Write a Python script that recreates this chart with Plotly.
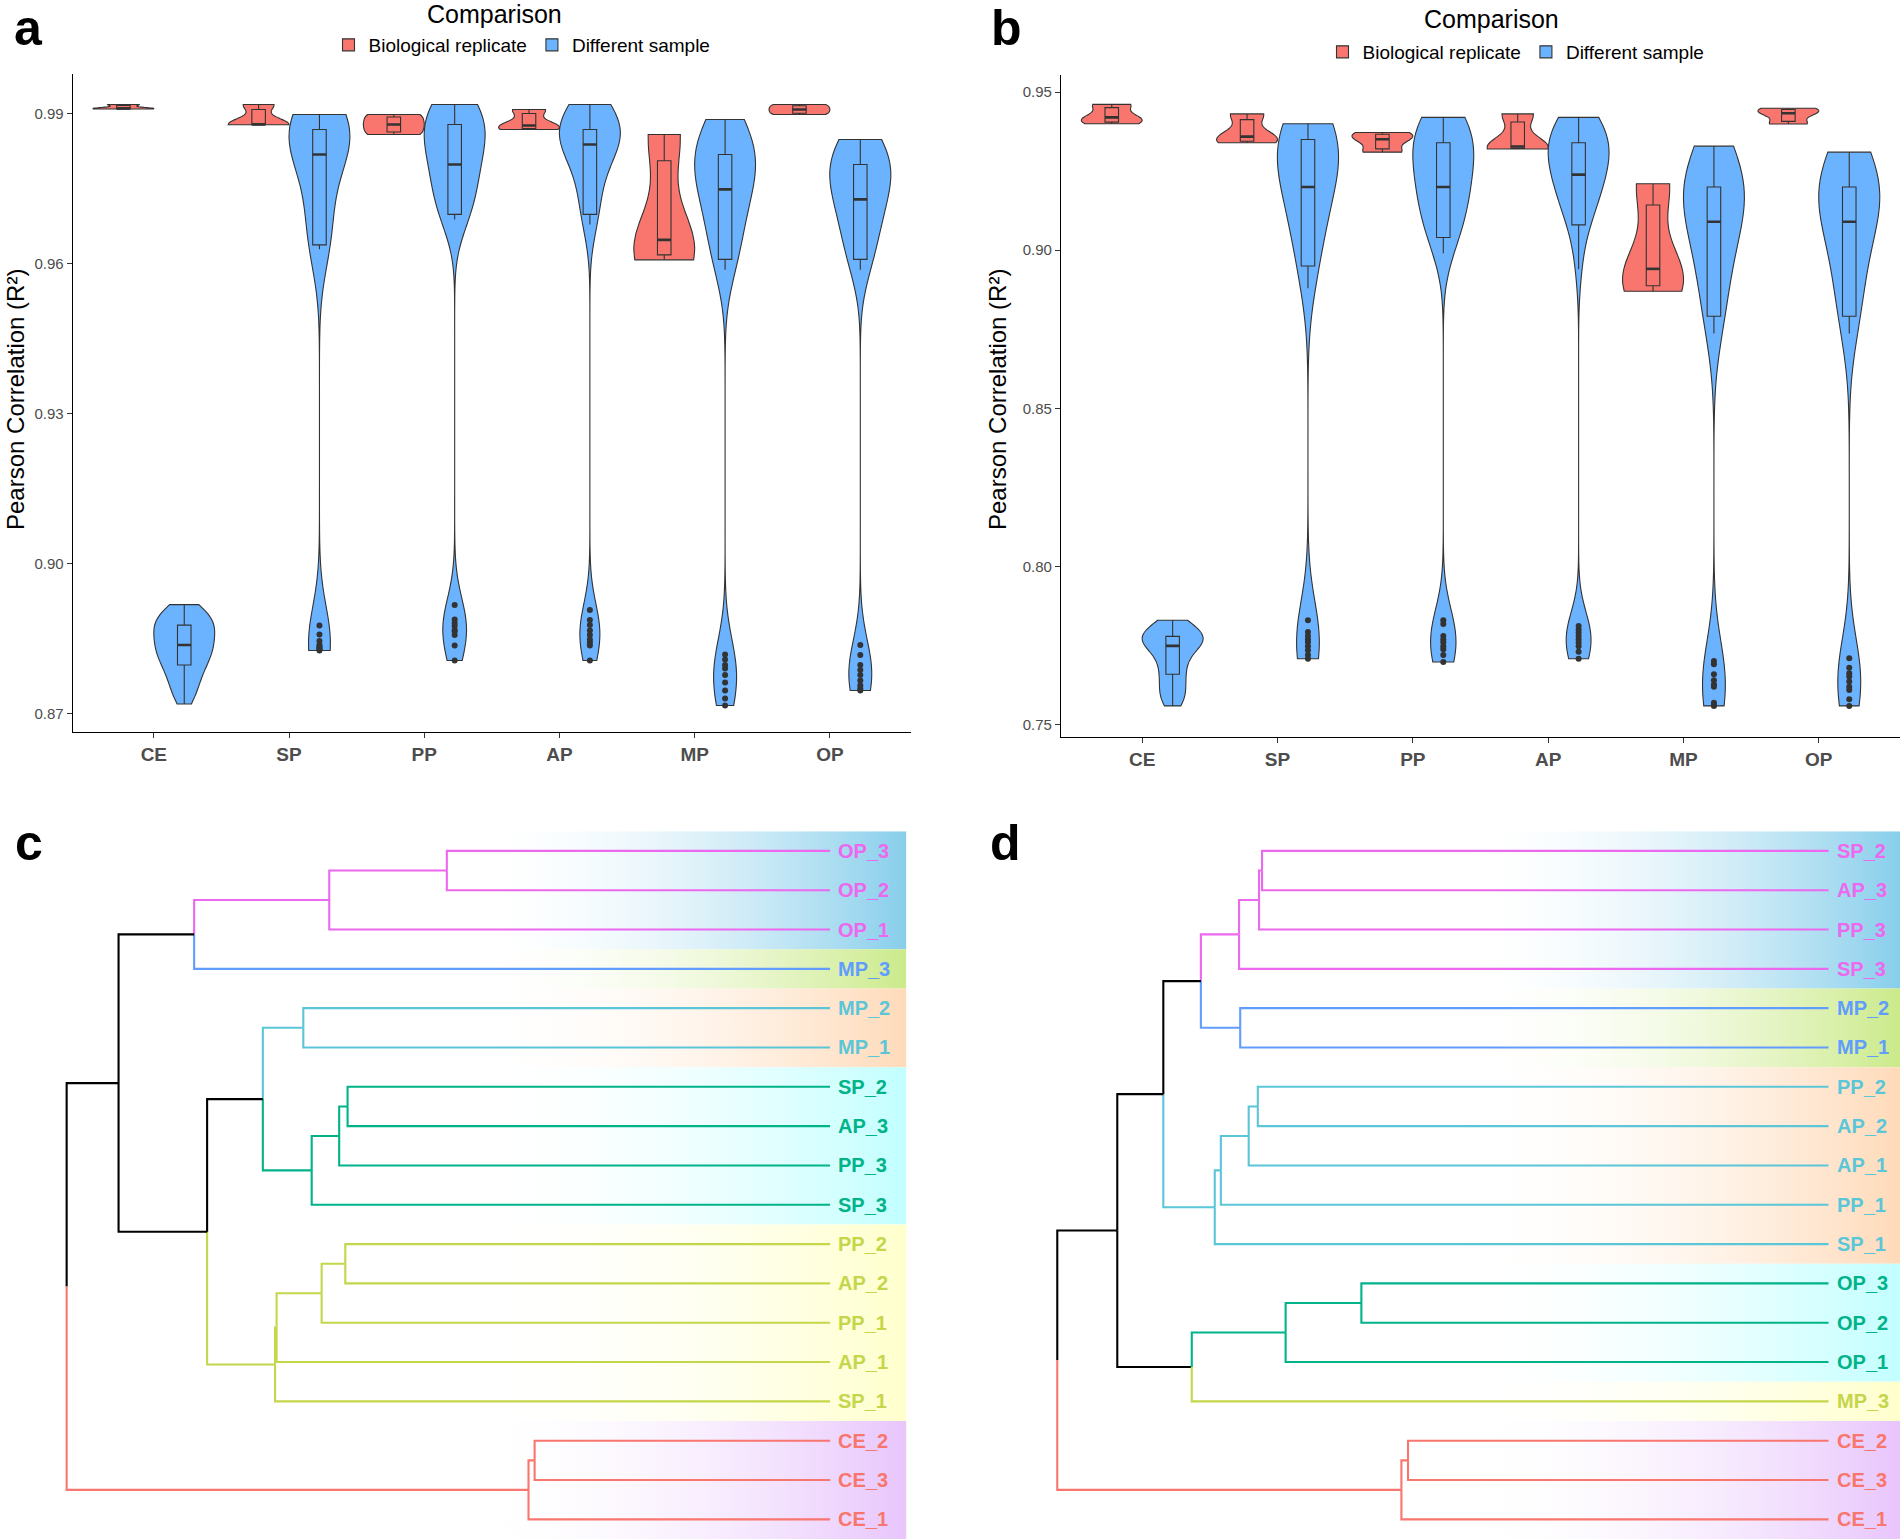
import numpy as np
import plotly.graph_objects as go

FONT = "Liberation Sans, Arial, sans-serif"
categories = ["CE", "SP", "PP", "AP", "MP", "OP"]
group_names = ["Biological replicate", "Different sample"]

# ---------------- panel a : Pearson correlations ----------------
a_rep_CE = [0.9910, 0.9910, 0.9911, 0.9911, 0.9919, 0.9919]
a_rep_SP = [0.98785, 0.98785, 0.9879, 0.9879, 0.9919, 0.9919]
a_rep_PP = [0.9859, 0.9859, 0.9879, 0.9879, 0.9899, 0.9899]
a_rep_AP = [0.9869, 0.9869, 0.9877, 0.9877, 0.9909, 0.9909]
a_rep_MP = [0.9608, 0.9608, 0.9648, 0.9648, 0.9859, 0.9859]
a_rep_OP = [0.9899, 0.9899, 0.9909, 0.9909, 0.9919, 0.9919]

a_diff_CE = [0.8719, 0.8728, 0.8738, 0.8746, 0.8754, 0.8761, 0.8768, 0.8774, 0.8780, 0.8786,
             0.8792, 0.8797, 0.8801, 0.8805, 0.8809, 0.8813, 0.8817, 0.8821, 0.8825, 0.8829,
             0.8832, 0.8835, 0.8837, 0.8841, 0.8845, 0.8849, 0.8853, 0.8857, 0.8861, 0.8864,
             0.8867, 0.8870, 0.8873, 0.8877, 0.8880, 0.8883, 0.8886, 0.8889, 0.8893, 0.8897,
             0.8901, 0.8906, 0.8910, 0.8914, 0.8918]
a_diff_SP = [0.8826, 0.8828, 0.8830, 0.8832, 0.8835, 0.8837, 0.8845, 0.8858, 0.8876,
             0.9629, 0.9633, 0.9638, 0.9646, 0.9657, 0.9671, 0.9688, 0.9707, 0.9727, 0.9748,
             0.9769, 0.9788, 0.9805, 0.9819, 0.9828, 0.9835, 0.9841, 0.9846, 0.9850, 0.9854,
             0.9857, 0.9860, 0.9863, 0.9866, 0.9869, 0.9872, 0.9875, 0.9878, 0.9881, 0.9884,
             0.9887, 0.9890, 0.9892, 0.9894, 0.9897, 0.9899]
a_diff_PP = [0.8806, 0.8836, 0.8857, 0.8864, 0.8867, 0.8875, 0.8881, 0.8888, 0.8917,
             0.9689, 0.9694, 0.9699, 0.9706, 0.9714, 0.9723, 0.9732, 0.9742, 0.9752, 0.9762,
             0.9772, 0.9781, 0.9790, 0.9799, 0.9807, 0.9815, 0.9822, 0.9829, 0.9836, 0.9843,
             0.9850, 0.9857, 0.9864, 0.9871, 0.9879, 0.9884, 0.9888, 0.9892, 0.9896, 0.9899,
             0.9903, 0.9906, 0.9910, 0.9913, 0.9916, 0.9919]
a_diff_AP = [0.8806, 0.8836, 0.8842, 0.8848, 0.8857, 0.8866, 0.8877, 0.8887, 0.8907,
             0.9679, 0.9690, 0.9699, 0.9712, 0.9727, 0.9743, 0.9760, 0.9776, 0.9791, 0.9804,
             0.9815, 0.9824, 0.9832, 0.9839, 0.9842, 0.9845, 0.9848, 0.9851, 0.9854, 0.9857,
             0.9860, 0.9862, 0.9864, 0.9867, 0.9869, 0.9874, 0.9879, 0.9884, 0.9889, 0.9894,
             0.9899, 0.9904, 0.9909, 0.9913, 0.9916, 0.9919]
a_diff_MP = [0.8716, 0.8730, 0.8746, 0.8762, 0.8777, 0.8790, 0.8797, 0.8808, 0.8818,
             0.9588, 0.9598, 0.9609, 0.9622, 0.9636, 0.9649, 0.9662, 0.9675, 0.9688, 0.9701,
             0.9715, 0.9728, 0.9739, 0.9749, 0.9756, 0.9762, 0.9768, 0.9774, 0.9780, 0.9786,
             0.9792, 0.9799, 0.9806, 0.9812, 0.9819, 0.9826, 0.9833, 0.9840, 0.9846, 0.9852,
             0.9858, 0.9865, 0.9871, 0.9877, 0.9883, 0.9889]
a_diff_OP = [0.8746, 0.8750, 0.8756, 0.8766, 0.8777, 0.8787, 0.8797, 0.8817, 0.8837,
             0.9588, 0.9598, 0.9609, 0.9621, 0.9633, 0.9645, 0.9657, 0.9668, 0.9679, 0.9690,
             0.9701, 0.9711, 0.9720, 0.9729, 0.9736, 0.9743, 0.9749, 0.9755, 0.9761, 0.9767,
             0.9774, 0.9780, 0.9786, 0.9793, 0.9799, 0.9804, 0.9809, 0.9814, 0.9818, 0.9823,
             0.9828, 0.9833, 0.9837, 0.9841, 0.9845, 0.9849]
a_yticks = [0.87, 0.90, 0.93, 0.96, 0.99]

# ---------------- panel b ----------------
b_rep_CE = [0.9400, 0.9400, 0.9420, 0.9420, 0.9461, 0.9461]
b_rep_SP = [0.9340, 0.9340, 0.9359, 0.9359, 0.9431, 0.9431]
b_rep_PP = [0.9310, 0.9310, 0.9351, 0.9351, 0.9372, 0.9372]
b_rep_AP = [0.9320, 0.9320, 0.9328, 0.9328, 0.9431, 0.9431]
b_rep_MP = [0.8870, 0.8870, 0.8941, 0.8941, 0.9210, 0.9210]
b_rep_OP = [0.9399, 0.9399, 0.9433, 0.9433, 0.9449, 0.9449]

b_diff_CE = [0.7559, 0.7566, 0.7574, 0.7583, 0.7592, 0.7601, 0.7610, 0.7619, 0.7629, 0.7639,
             0.7649, 0.7659, 0.7668, 0.7677, 0.7686, 0.7695, 0.7704, 0.7713, 0.7721, 0.7729,
             0.7736, 0.7743, 0.7749, 0.7752, 0.7755, 0.7758, 0.7761, 0.7764, 0.7767, 0.7770,
             0.7773, 0.7775, 0.7777, 0.7779, 0.7783, 0.7787, 0.7791, 0.7795, 0.7800, 0.7804,
             0.7809, 0.7814, 0.7819, 0.7825, 0.7830]
b_diff_SP = [0.7708, 0.7720, 0.7735, 0.7748, 0.7760, 0.7769, 0.7780, 0.7793, 0.7830,
             0.8880, 0.8916, 0.8950, 0.8985, 0.9015, 0.9042, 0.9067, 0.9090, 0.9112, 0.9133,
             0.9153, 0.9170, 0.9186, 0.9200, 0.9214, 0.9227, 0.9241, 0.9255, 0.9268, 0.9282,
             0.9295, 0.9309, 0.9323, 0.9336, 0.9350, 0.9355, 0.9360, 0.9364, 0.9369, 0.9373,
             0.9378, 0.9382, 0.9387, 0.9391, 0.9396, 0.9400]
b_diff_PP = [0.7698, 0.7720, 0.7738, 0.7748, 0.7760, 0.7769, 0.7780, 0.7818, 0.7830,
             0.8990, 0.9015, 0.9040, 0.9058, 0.9074, 0.9089, 0.9104, 0.9119, 0.9133, 0.9147,
             0.9161, 0.9174, 0.9187, 0.9200, 0.9213, 0.9226, 0.9239, 0.9252, 0.9264, 0.9276,
             0.9288, 0.9300, 0.9313, 0.9326, 0.9340, 0.9348, 0.9356, 0.9364, 0.9372, 0.9380,
             0.9388, 0.9396, 0.9404, 0.9410, 0.9415, 0.9420]
b_diff_AP = [0.7708, 0.7730, 0.7748, 0.7759, 0.7769, 0.7780, 0.7790, 0.7801, 0.7812,
             0.8940, 0.9010, 0.9080, 0.9098, 0.9115, 0.9131, 0.9146, 0.9161, 0.9175, 0.9189,
             0.9202, 0.9215, 0.9227, 0.9239, 0.9248, 0.9257, 0.9266, 0.9275, 0.9284, 0.9293,
             0.9302, 0.9312, 0.9321, 0.9330, 0.9340, 0.9348, 0.9356, 0.9364, 0.9372, 0.9380,
             0.9388, 0.9396, 0.9404, 0.9410, 0.9415, 0.9420]
b_diff_MP = [0.7559, 0.7562, 0.7569, 0.7620, 0.7627, 0.7640, 0.7659, 0.7691, 0.7701,
             0.8737, 0.8764, 0.8791, 0.8825, 0.8858, 0.8889, 0.8918, 0.8945, 0.8970, 0.8993,
             0.9014, 0.9034, 0.9062, 0.9090, 0.9099, 0.9108, 0.9121, 0.9129, 0.9141, 0.9148,
             0.9161, 0.9169, 0.9181, 0.9190, 0.9200, 0.9212, 0.9224, 0.9236, 0.9248, 0.9260,
             0.9272, 0.9284, 0.9296, 0.9308, 0.9319, 0.9329]
b_diff_OP = [0.7559, 0.7580, 0.7609, 0.7620, 0.7636, 0.7652, 0.7662, 0.7680, 0.7710,
             0.8737, 0.8764, 0.8791, 0.8822, 0.8853, 0.8883, 0.8912, 0.8939, 0.8965, 0.8990,
             0.9014, 0.9037, 0.9064, 0.9090, 0.9101, 0.9109, 0.9122, 0.9131, 0.9139, 0.9152,
             0.9158, 0.9171, 0.9179, 0.9191, 0.9200, 0.9211, 0.9222, 0.9233, 0.9244, 0.9255,
             0.9266, 0.9277, 0.9288, 0.9298, 0.9304, 0.9310]
b_yticks = [0.75, 0.80, 0.85, 0.90, 0.95]

# ---------------- dendrograms ----------------
c_leaves = ["OP_3", "OP_2", "OP_1", "MP_3", "MP_2", "MP_1", "SP_2", "AP_3", "PP_3", "SP_3",
            "PP_2", "AP_2", "PP_1", "AP_1", "SP_1", "CE_2", "CE_3", "CE_1"]
c_leaf_cluster = [1, 1, 1, 2, 3, 3, 4, 4, 4, 4, 5, 5, 5, 5, 5, 6, 6, 6]
c_merges = [("D", "OP_3", "OP_2", 0.502), ("C", "D", "OP_1", 0.656), ("B", "C", "MP_3", 0.833),
            ("G", "MP_2", "MP_1", 0.690), ("J", "SP_2", "AP_3", 0.632), ("I", "J", "PP_3", 0.643),
            ("H", "I", "SP_3", 0.679), ("F", "G", "H", 0.743), ("N", "PP_2", "AP_2", 0.635),
            ("M", "N", "PP_1", 0.666), ("L", "M", "AP_1", 0.725), ("K", "L", "SP_1", 0.727),
            ("E", "F", "K", 0.816), ("A", "B", "E", 0.932), ("P", "CE_2", "CE_3", 0.387),
            ("O", "P", "CE_1", 0.395), ("root", "A", "O", 1.000)]

d_leaves = ["SP_2", "AP_3", "PP_3", "SP_3", "MP_2", "MP_1", "PP_2", "AP_2", "AP_1", "PP_1",
            "SP_1", "OP_3", "OP_2", "OP_1", "MP_3", "CE_2", "CE_3", "CE_1"]
d_leaf_cluster = [1, 1, 1, 1, 2, 2, 3, 3, 3, 3, 3, 4, 4, 4, 5, 6, 6, 6]
d_merges = [("F", "SP_2", "AP_3", 0.7345), ("E", "F", "PP_3", 0.7384), ("D", "E", "SP_3", 0.7643),
            ("G", "MP_2", "MP_1", 0.7628), ("C", "D", "G", 0.8138), ("K", "PP_2", "AP_2", 0.7400),
            ("J", "K", "AP_1", 0.7518), ("I", "J", "PP_1", 0.7879), ("H", "I", "SP_1", 0.7958),
            ("B", "C", "H", 0.8625), ("N", "OP_3", "OP_2", 0.6057), ("M", "N", "OP_1", 0.7039),
            ("L", "M", "MP_3", 0.8256), ("A", "B", "L", 0.9222), ("P", "CE_2", "CE_3", 0.5452),
            ("O", "P", "CE_1", 0.5538), ("root", "A", "O", 1.000)]

branch_colors = {1: "#EC68EE", 2: "#619CFF", 3: "#5BC6D8", 4: "#00B389", 5: "#C4D64A", 6: "#F8766D"}
band_colors = {1: "#87CEEB", 2: "#CBEA8A", 3: "#FFDAB9", 4: "#C2FFFF", 5: "#FFFFCC", 6: "#E8C5FC"}

RED = "#F8766D"
BLUE = "#6BB2FF"
EDGE = "#333333"
DODGE = 0.225


def nrd0(v):
    v = np.asarray(v, float)
    sd = v.std(ddof=1)
    q25, q75 = np.percentile(v, [25, 75])
    lo = min(sd, (q75 - q25) / 1.34)
    if lo <= 0:
        lo = sd if sd > 0 else 1e-4
    return 0.9 * lo * len(v) ** -0.2


def box_stats(v):
    v = np.sort(np.asarray(v, float))
    q1, med, q3 = np.percentile(v, [25, 50, 75])
    iqr = q3 - q1
    lo, hi = q1 - 1.5 * iqr, q3 + 1.5 * iqr
    inside = v[(v >= lo) & (v <= hi)]
    out = v[(v < lo) | (v > hi)]
    return q1, med, q3, inside.min(), inside.max(), out


fig = go.Figure()


def add_violin_panel(rep, diff, xa, ya, legend):
    for i, cat in enumerate(categories):
        for g, (data, color, off) in enumerate([(rep[cat], RED, -DODGE), (diff[cat], BLUE, DODGE)]):
            pos = i + 1 + off
            fig.add_trace(go.Violin(
                x=[pos] * len(data), y=data, width=0.45, spanmode="hard", bandwidth=nrd0(data),
                points=False, fillcolor=color, line=dict(color=EDGE, width=1.1), opacity=1,
                name=group_names[g], legendgroup=group_names[g] + legend, showlegend=(i == 0),
                legend=legend, xaxis=xa, yaxis=ya, hoverinfo="skip"))
            q1, med, q3, lf, uf, out = box_stats(data)
            fig.add_trace(go.Box(
                x=[pos], q1=[q1], median=[med], q3=[q3], lowerfence=[lf], upperfence=[uf],
                width=0.1, fillcolor=color, line=dict(color=EDGE, width=1.1), whiskerwidth=0,
                boxpoints=False, showlegend=False, xaxis=xa, yaxis=ya, hoverinfo="skip"))
            fig.add_trace(go.Scatter(
                x=[pos - 0.05, pos + 0.05], y=[med, med], mode="lines",
                line=dict(color=EDGE, width=2.6), showlegend=False, xaxis=xa, yaxis=ya,
                hoverinfo="skip"))
            if len(out):
                fig.add_trace(go.Scatter(
                    x=[pos] * len(out), y=out, mode="markers",
                    marker=dict(color=EDGE, size=6), showlegend=False, xaxis=xa, yaxis=ya,
                    hoverinfo="skip"))


a_rep = {"CE": a_rep_CE, "SP": a_rep_SP, "PP": a_rep_PP, "AP": a_rep_AP, "MP": a_rep_MP, "OP": a_rep_OP}
a_diff = {"CE": a_diff_CE, "SP": a_diff_SP, "PP": a_diff_PP, "AP": a_diff_AP, "MP": a_diff_MP, "OP": a_diff_OP}
b_rep = {"CE": b_rep_CE, "SP": b_rep_SP, "PP": b_rep_PP, "AP": b_rep_AP, "MP": b_rep_MP, "OP": b_rep_OP}
b_diff = {"CE": b_diff_CE, "SP": b_diff_SP, "PP": b_diff_PP, "AP": b_diff_AP, "MP": b_diff_MP, "OP": b_diff_OP}

add_violin_panel(a_rep, a_diff, "x", "y", "legend")
add_violin_panel(b_rep, b_diff, "x2", "y2", "legend2")

annotations = []


def add_dendrogram(leaves, clusters, merges, xa, ya, grad_start, band_end):
    ypos = {l: i for i, l in enumerate(leaves)}
    height = {l: 0.0 for l in leaves}
    members = {l: {l} for l in leaves}
    leaf_cl = dict(zip(leaves, clusters))
    children = {}
    for name, a, b, h in merges:
        ypos[name] = (ypos[a] + ypos[b]) / 2
        height[name] = h
        members[name] = members[a] | members[b]
        children[name] = (a, b)
    # background gradient bands (white on the left -> full colour at the right edge)
    runs = []
    for i, cl in enumerate(clusters):
        if runs and runs[-1][0] == cl:
            runs[-1][2] = i
        else:
            runs.append([cl, i, i])
    for cl, i0, i1 in runs:
        y0, y1 = i0 - 0.5, i1 + 0.5
        fig.add_trace(go.Scatter(
            x=[grad_start, band_end, band_end, grad_start, grad_start],
            y=[y0, y0, y1, y1, y0], mode="none", fill="toself",
            fillgradient=dict(type="horizontal",
                              colorscale=[[0, "rgba(255,255,255,0)"], [1, band_colors[cl]]]),
            showlegend=False, xaxis=xa, yaxis=ya, hoverinfo="skip"))
    # branch colours
    color = {}
    for n in ypos:
        cls = {leaf_cl[l] for l in members[n]}
        color[n] = branch_colors[cls.pop()] if len(cls) == 1 else "#000000"
    segs = {}
    for p, (a, b) in children.items():
        for c in (a, b):
            xs, ys = segs.setdefault(color[c], ([], []))
            xs += [height[p], height[p], height[c], None]
            ys += [ypos[p], ypos[c], ypos[c], None]
    for col, (xs, ys) in segs.items():
        fig.add_trace(go.Scatter(x=xs, y=ys, mode="lines", line=dict(color=col, width=2.1),
                                 showlegend=False, xaxis=xa, yaxis=ya, hoverinfo="skip"))
    for l in leaves:
        annotations.append(dict(x=0, y=ypos[l], xref=xa, yref=ya, text=l, showarrow=False,
                                xanchor="left", yanchor="middle", xshift=6,
                                font=dict(family=FONT, size=20, color=branch_colors[leaf_cl[l]],
                                          weight="bold")))


add_dendrogram(c_leaves, c_leaf_cluster, c_merges, "x3", "y3", 0.476, -0.1)
add_dendrogram(d_leaves, d_leaf_cluster, d_merges, "x4", "y4", 0.479, -0.0927)

W, H = 1900, 1539


def px_x(p):
    return p / W


def px_y(p):
    return 1 - p / H


def violin_xaxis(domain):
    return dict(domain=domain, range=[0.4, 6.6], tickmode="array",
                tickvals=list(range(1, len(categories) + 1)), ticktext=categories,
                showline=True, linecolor="black", linewidth=1.2, ticks="outside", ticklen=5,
                tickwidth=1.1, tickcolor=EDGE, showgrid=False, zeroline=False,
                tickfont=dict(family=FONT, size=19, color="#4D4D4D", weight="bold"))


def violin_yaxis(domain, rng, ticks):
    return dict(domain=domain, range=rng, tickmode="array", tickvals=ticks,
                ticktext=[f"{t:.2f}" for t in ticks], showline=True, linecolor="black",
                linewidth=1.2, ticks="outside", ticklen=5, tickwidth=1.1, tickcolor=EDGE,
                showgrid=False, zeroline=False,
                tickfont=dict(family=FONT, size=15, color="#4D4D4D"))


hidden = dict(visible=False, showgrid=False, zeroline=False)

letters = [("a", 28, 28), ("b", 1006, 28), ("c", 29, 843), ("d", 1005, 843)]
for t, xx, yy in letters:
    annotations.append(dict(x=px_x(xx), y=px_y(yy), xref="paper", yref="paper", text=t,
                            showarrow=False, xanchor="center", yanchor="middle",
                            font=dict(family=FONT, size=50, color="black", weight="bold")))
for xx, yy in [(15, 400), (997, 400)]:
    annotations.append(dict(x=px_x(xx), y=px_y(yy), xref="paper", yref="paper",
                            text="Pearson Correlation (R\u00b2)", textangle=-90, showarrow=False,
                            xanchor="center", yanchor="middle",
                            font=dict(family=FONT, size=24, color="black")))
# legend titles
for xx, yy in [(495, 14), (1491, 19)]:
    annotations.append(dict(x=px_x(xx), y=px_y(yy), xref="paper", yref="paper",
                            text="Comparison", showarrow=False, xanchor="center",
                            yanchor="middle", font=dict(family=FONT, size=25, color="black")))

legend_style = dict(orientation="h", xanchor="center", yanchor="middle",
                    font=dict(family=FONT, size=19, color="black"),
                    bgcolor="rgba(0,0,0,0)", itemwidth=30)

fig.update_layout(
    width=W, height=H, autosize=False, margin=dict(l=0, r=0, t=0, b=0),
    paper_bgcolor="white", plot_bgcolor="white",
    violinmode="overlay", boxmode="overlay",
    font=dict(family=FONT),
    xaxis=dict(anchor="y", **violin_xaxis([px_x(72.7), px_x(911)])),
    yaxis=dict(anchor="x", **violin_yaxis([px_y(732), px_y(74)], [0.8663, 0.9980], a_yticks)),
    xaxis2=dict(anchor="y2", **violin_xaxis([px_x(1061), 1.0])),
    yaxis2=dict(anchor="x2", **violin_yaxis([px_y(736.6), px_y(75)], [0.7462, 0.9554], b_yticks)),
    xaxis3=dict(anchor="y3", domain=[0, px_x(906.4)], range=[1.0873, -0.1], **hidden),
    yaxis3=dict(anchor="x3", domain=[0, px_y(831.2)], range=[17.5, -0.5], **hidden),
    xaxis4=dict(anchor="y4", domain=[0.5, 1.0], range=[1.1391, -0.0927], **hidden),
    yaxis4=dict(anchor="x4", domain=[0, px_y(831.2)], range=[17.5, -0.5], **hidden),
    legend=dict(x=px_x(522), y=px_y(45), **legend_style),
    legend2=dict(x=px_x(1516), y=px_y(52), **legend_style),
    annotations=annotations,
    showlegend=True,
)

fig.write_html("out.html", config={"displayModeBar": False},
               post_script="document.body.style.margin='0px';")
